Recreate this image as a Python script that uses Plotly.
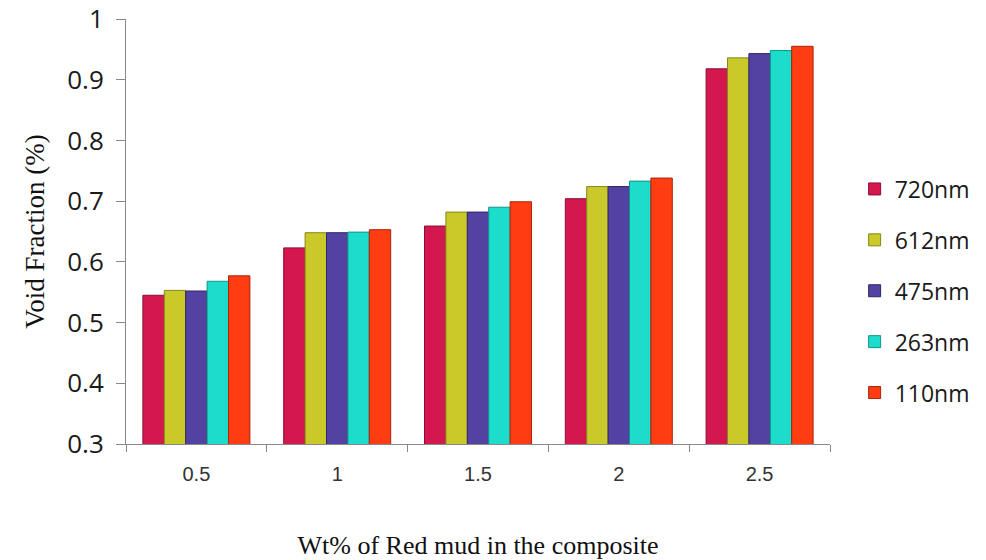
import plotly.graph_objects as go

categories = ["0.5", "1", "1.5", "2", "2.5"]
series_names = ["720nm", "612nm", "475nm", "263nm", "110nm"]
v720 = [0.545, 0.623, 0.659, 0.704, 0.918]
v612 = [0.553, 0.648, 0.682, 0.724, 0.936]
v475 = [0.552, 0.648, 0.682, 0.724, 0.943]
v263 = [0.568, 0.649, 0.690, 0.733, 0.948]
v110 = [0.577, 0.653, 0.699, 0.738, 0.955]
series_values = [v720, v612, v475, v263, v110]
colors = ["#D4184F", "#C9C92A", "#5442A2", "#1CDCCB", "#FF3C12"]
edge_colors = ["#8A0E32", "#86861A", "#302468", "#109488", "#A8240A"]

fig = go.Figure()
for name, vals, c, ec in zip(series_names, series_values, colors, edge_colors):
    fig.add_trace(go.Bar(
        x=categories, y=vals, name=name, legendgroup=name,
        marker=dict(color=c, line=dict(color=ec, width=1)),
    ))

fig.update_layout(
    width=986, height=560,
    margin=dict(l=126, r=156, t=19, b=116, autoexpand=False),
    paper_bgcolor="white", plot_bgcolor="white",
    barmode="group", bargap=0.24, bargroupgap=0.0,
    font=dict(family="Open Sans, Arial", color="#222"),
    legend=dict(
        x=1.035, xanchor="left", y=0.36, yanchor="middle",
        font=dict(family="Open Sans, Arial", size=23, color="#1a1a1a"),
        tracegroupgap=18, itemwidth=30,
        bgcolor="rgba(0,0,0,0)",
    ),
    showlegend=True,
)
fig.update_xaxes(
    type="category", tickson="boundaries", ticks="outside", ticklen=7,
    tickcolor="#888", showline=True, linecolor="#888", linewidth=1,
    showgrid=False, automargin=False,
    tickfont=dict(family="Liberation Sans, Arial", size=20, color="#333"),
    ticklabelstandoff=12,
    title=dict(text="Wt% of Red mud in the composite",
               font=dict(family="Liberation Serif, Times New Roman", size=26, color="#111"),
               standoff=52),
)
fig.update_yaxes(
    range=[0.3, 1.0], dtick=0.1, tick0=0.3, ticks="outside", ticklen=9,
    tickcolor="#888", showline=True, linecolor="#888", linewidth=1,
    showgrid=False, zeroline=False, automargin=False,
    tickfont=dict(family="Open Sans, Arial", size=26, color="#1a1a1a"),
    ticklabelstandoff=7,
    title=dict(text="Void Fraction (%)",
               font=dict(family="Liberation Serif, Times New Roman", size=27, color="#111"),
               standoff=14),
)

fig.write_html("out.html")
